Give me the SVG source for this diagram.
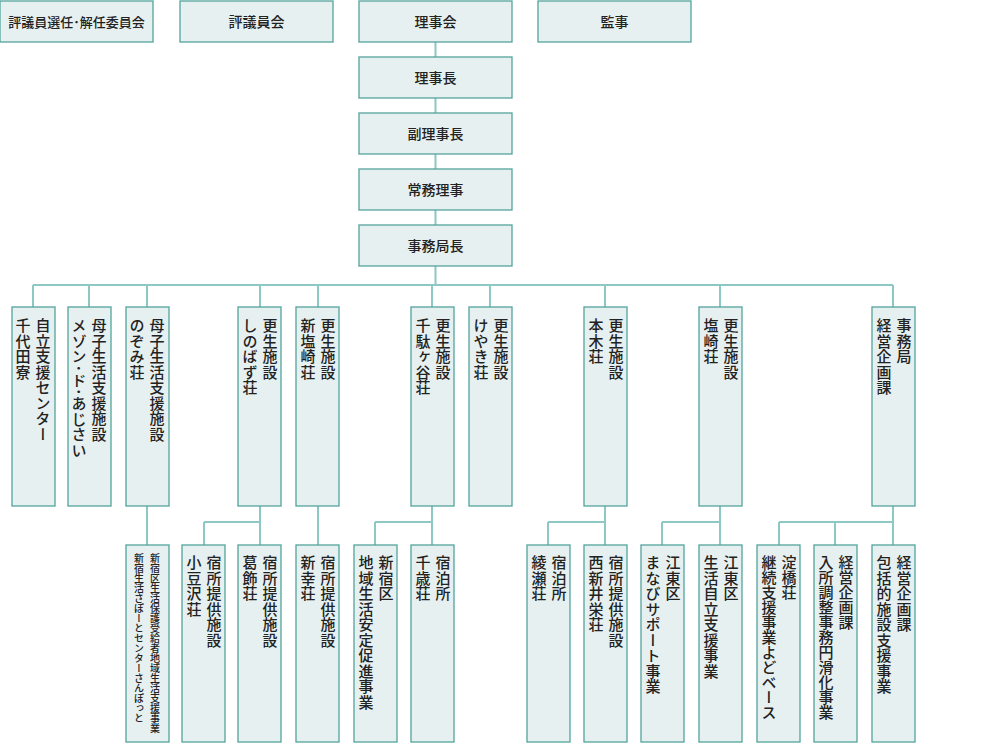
<svg xmlns="http://www.w3.org/2000/svg" width="1003" height="744" viewBox="0 0 1003 744">
<style>
rect{fill:#e7f0f0;stroke:#52a39d;stroke-width:1.3}
text{font-family:"Noto Sans CJK JP","Noto Sans",sans-serif;font-size:14px;fill:#222;font-weight:500}
.h{text-anchor:middle}
.v{writing-mode:vertical-rl;font-size:15px;letter-spacing:0.5px}
.s{font-size:10px;letter-spacing:0}
#conn path{fill:none;stroke:#8ec8c5;stroke-width:2}
</style>
<rect width="1003" height="744" style="fill:#fff;stroke:none"/>
<g id="conn">
<path d="M435.5 42V57M435.5 98V113M435.5 154V169M435.5 210V225M435.5 266V285M33 285H893M33 285V307M89 285V307M147 285V307M260 285V307M318 285V307M432 285V307M490 285V307M605 285V307M720 285V307M893 285V307"/>
<path d="M147 506V545M260 506V522M204 522H260M204 522V545M260 522V545M318 506V545M432 506V522M375 522H432M375 522V545M432 522V545M605 506V522M548 522H605M548 522V545M605 522V545M720 506V522M662 522H720M662 522V545M720 522V545M893 506V522M779 522H893M779 522V545M835 522V545M893 522V545"/>
</g>
<g id="n_top1"><rect x="0" y="1" width="153" height="41"/><text class="h" x="76.5" y="27" style="font-size:13px">評議員選任･解任委員会</text></g>
<g id="n_top2"><rect x="180" y="1" width="153" height="41"/><text class="h" x="256.5" y="27">評議員会</text></g>
<g id="n_rijikai"><rect x="359" y="1" width="153" height="41"/><text class="h" x="435.5" y="27">理事会</text></g>
<g id="n_kanji"><rect x="538" y="1" width="153" height="41"/><text class="h" x="614.5" y="27">監事</text></g>
<g id="n_rijicho"><rect x="359" y="57" width="153" height="41"/><text class="h" x="435.5" y="83">理事長</text></g>
<g id="n_fuku"><rect x="359" y="113" width="153" height="41"/><text class="h" x="435.5" y="139">副理事長</text></g>
<g id="n_jomu"><rect x="359" y="169" width="153" height="41"/><text class="h" x="435.5" y="195">常務理事</text></g>
<g id="n_jimu"><rect x="359" y="225" width="153" height="41"/><text class="h" x="435.5" y="251">事務局長</text></g>

<g id="l2_1"><rect x="12" y="307" width="43" height="199"/><text class="v" x="43" y="318">自立支援センター</text><text class="v" x="23" y="318">千代田寮</text></g>
<g id="l2_2"><rect x="68" y="307" width="43" height="199"/><text class="v" x="99" y="318">母子生活支援施設</text><text class="v" x="79" y="318">メゾン･ド･あじさい</text></g>
<g id="l2_3"><rect x="126" y="307" width="43" height="199"/><text class="v" x="157" y="318">母子生活支援施設</text><text class="v" x="137" y="318">のぞみ荘</text></g>
<g id="l2_4"><rect x="238" y="307" width="43" height="199"/><text class="v" x="270" y="318">更生施設</text><text class="v" x="250" y="318">しのばず荘</text></g>
<g id="l2_5"><rect x="296" y="307" width="43" height="199"/><text class="v" x="328" y="318">更生施設</text><text class="v" x="308" y="318">新塩崎荘</text></g>
<g id="l2_6"><rect x="411" y="307" width="43" height="199"/><text class="v" x="443" y="318">更生施設</text><text class="v" x="423" y="318">千駄ヶ谷荘</text></g>
<g id="l2_7"><rect x="469" y="307" width="43" height="199"/><text class="v" x="501" y="318">更生施設</text><text class="v" x="481" y="318">けやき荘</text></g>
<g id="l2_8"><rect x="584" y="307" width="43" height="199"/><text class="v" x="616" y="318">更生施設</text><text class="v" x="596" y="318">本木荘</text></g>
<g id="l2_9"><rect x="699" y="307" width="43" height="199"/><text class="v" x="731" y="318">更生施設</text><text class="v" x="711" y="318">塩崎荘</text></g>
<g id="l2_10"><rect x="872" y="307" width="43" height="199"/><text class="v" x="904" y="318">事務局</text><text class="v" x="884" y="318">経営企画課</text></g>

<g id="l3_1"><rect x="126" y="545" width="43" height="197"/><text class="v s" x="155" y="553">新宿区生活保護受給者地域生活支援事業</text><text class="v s" x="139" y="553">新宿生活さぽーとセンターさんぽっと</text></g>
<g id="l3_2"><rect x="182" y="545" width="43" height="197"/><text class="v" x="214" y="555">宿所提供施設</text><text class="v" x="194" y="555">小豆沢荘</text></g>
<g id="l3_3"><rect x="238" y="545" width="43" height="197"/><text class="v" x="270" y="555">宿所提供施設</text><text class="v" x="250" y="555">葛飾荘</text></g>
<g id="l3_4"><rect x="296" y="545" width="43" height="197"/><text class="v" x="328" y="555">宿所提供施設</text><text class="v" x="308" y="555">新幸荘</text></g>
<g id="l3_5"><rect x="354" y="545" width="43" height="197"/><text class="v" x="386" y="555">新宿区</text><text class="v" x="366" y="555">地域生活安定促進事業</text></g>
<g id="l3_6"><rect x="411" y="545" width="43" height="197"/><text class="v" x="443" y="555">宿泊所</text><text class="v" x="423" y="555">千歳荘</text></g>
<g id="l3_7"><rect x="527" y="545" width="43" height="197"/><text class="v" x="559" y="555">宿泊所</text><text class="v" x="539" y="555">綾瀬荘</text></g>
<g id="l3_8"><rect x="584" y="545" width="43" height="197"/><text class="v" x="616" y="555">宿所提供施設</text><text class="v" x="596" y="555">西新井栄荘</text></g>
<g id="l3_9"><rect x="641" y="545" width="43" height="197"/><text class="v" x="673" y="555">江東区</text><text class="v" x="653" y="555">まなびサポート事業</text></g>
<g id="l3_10"><rect x="699" y="545" width="43" height="197"/><text class="v" x="731" y="555">江東区</text><text class="v" x="711" y="555">生活自立支援事業</text></g>
<g id="l3_11"><rect x="757" y="545" width="43" height="197"/><text class="v" x="789" y="555" style="letter-spacing:0">淀橋荘</text><text class="v" x="769" y="555" style="letter-spacing:0">継続支援事業よどベース</text></g>
<g id="l3_12"><rect x="814" y="545" width="43" height="197"/><text class="v" x="846" y="555" style="letter-spacing:0">経営企画課</text><text class="v" x="826" y="555" style="letter-spacing:0">入所調整事務円滑化事業</text></g>
<g id="l3_13"><rect x="872" y="545" width="43" height="197"/><text class="v" x="904" y="555">経営企画課</text><text class="v" x="884" y="555">包括的施設支援事業</text></g>
</svg>
